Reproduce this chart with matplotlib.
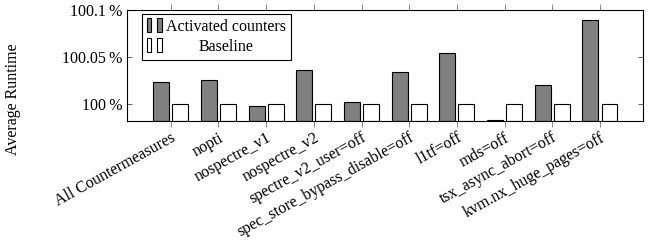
import numpy as np
import matplotlib.pyplot as plt
from matplotlib.patches import Rectangle
from matplotlib.legend_handler import HandlerBase

plt.rcParams['font.family'] = ['Liberation Serif', 'DejaVu Serif']
plt.rcParams['font.size'] = 11.5

configs = ["All Countermeasures", "nopti", "nospectre_v1", "nospectre_v2",
           "spectre_v2_user=off", "spec_store_bypass_disable=off", "l1tf=off",
           "mds=off", "tsx_async_abort=off", "kvm.nx_huge_pages=off"]
activated = [100.0228, 100.0253, 99.997, 100.0359, 100.0014,
             100.0337, 100.054, 99.982, 100.0203, 100.090]
baseline = [100.0] * 10
yticks = [100.0, 100.05, 100.1]
ytick_labels = ["100\u2009%", "100.05\u2009%", "100.1\u2009%"]

ymin, ymax = 99.9815, 100.1


class TwoBars(HandlerBase):
    # pgfplots-style ybar legend image: two small bars
    def create_artists(self, legend, orig, xd, yd, w, h, fontsize, trans):
        fc = orig.get_facecolor()
        bw = w * 0.3
        out = []
        for x0 in (xd, xd + w * 0.7):
            out.append(Rectangle((x0, yd - h * 0.1), bw, h * 1.25, facecolor=fc,
                                 edgecolor='black', lw=0.8, transform=trans))
        return out


fig = plt.figure(figsize=(6.54, 2.43), dpi=100)
ax = fig.add_axes([0.194, 0.503, 0.789, 0.454])

x = np.arange(len(configs))
w = 0.335
a_vals = np.array(activated) - ymin
b_vals = np.array(baseline) - ymin
h1 = ax.bar(x - 0.2, a_vals, w, bottom=ymin, color='#808080',
            edgecolor='black', lw=0.8, label='Activated counters')
h2 = ax.bar(x + 0.2, b_vals, w, bottom=ymin, color='white',
            edgecolor='black', lw=0.8, label='Baseline')

ax.set_xlim(-0.92, 9.9)
ax.set_ylim(ymin, ymax)
ax.set_yticks(yticks)
ax.set_yticklabels(ytick_labels)
ax.set_xticks(x)
ax.set_xticklabels(configs, rotation=29, ha='right', rotation_mode='anchor')
ax.tick_params(axis='y', direction='in', right=True, length=3.5,
               width=0.6, color='#444444')
ax.tick_params(axis='x', direction='out', top=True, length=4.5,
               width=0.6, color='#777777', pad=2)
for s in ax.spines.values():
    s.set_linewidth(0.8)

ax.set_ylabel("Average Runtime")
ax.yaxis.set_label_coords(-0.205, 0.2)

leg = ax.legend(handles=[h1.patches[0], h2.patches[0]],
                labels=['Activated counters', 'Baseline'],
                handler_map={Rectangle: TwoBars()},
                loc='upper left', bbox_to_anchor=(0.029, 0.968),
                fancybox=False, edgecolor='black', framealpha=1,
                borderpad=0.3, labelspacing=0.25, handlelength=0.95,
                handletextpad=0.25, borderaxespad=0)
leg.get_frame().set_linewidth(0.8)

# centre the legend entries like pgfplots does
r = fig.canvas.get_renderer()
texts = leg.get_texts()
widths = [t.get_window_extent(r).width for t in texts]
for t, tw in zip(texts, widths):
    t.set_x((max(widths) - tw) / 2)

fig.savefig("out.png", dpi=100)
